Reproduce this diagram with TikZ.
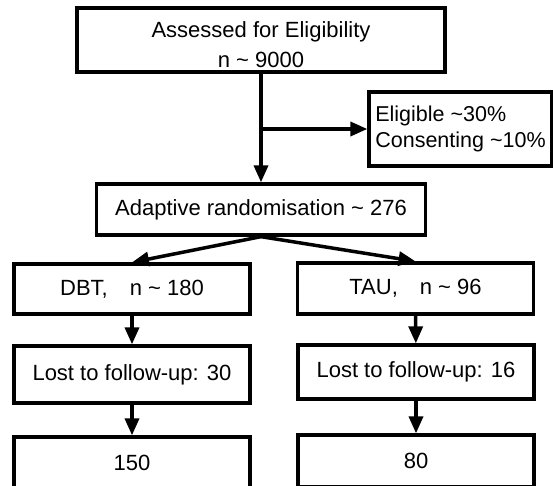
\documentclass[tikz,border=0pt]{standalone}
\usepackage{fontspec}
\setmainfont{Liberation Sans}
\usetikzlibrary{arrows.meta}
\begin{document}
\begin{tikzpicture}[x=1pt, y=-1pt,
        box/.style={rectangle, draw, line width=3.3pt, minimum width=236pt, inner sep=0pt,
            font=\fontsize{22}{27}\selectfont},
        arr/.style={line width=3.5pt, -{Triangle[length=17pt, width=14pt]}}]
        \useasboundingbox (0,0) rectangle (553,486);
        \clip (0,0) rectangle (553,486);

        % Nodes
        \node (assess) [box, minimum width=368pt, minimum height=64pt, align=center] at (261,40) {\rule{0pt}{26pt}Assessed for Eligibility\\[3pt]n \textasciitilde{} 9000};
        \node (elig) [box, minimum width=183pt, minimum height=74pt, align=left, font=\fontsize{21.5}{26}\selectfont] at (460.5,129) {Eligible \textasciitilde30\%\\Consenting \textasciitilde10\%};
        \node (rand) [box, minimum width=329pt, minimum height=51pt] at (261,209.5) {Adaptive randomisation \textasciitilde{} 276};
        \node (dbt) [box, minimum height=50pt] at (132,289) {DBT,\quad n \textasciitilde{} 180};
        \node (tau) [box, minimum height=51pt] at (415.5,288.5) {TAU,\quad n \textasciitilde{} 96};
        \node (lostd) [box, minimum height=57pt] at (132,374.5) {Lost to follow-up: 30};
        \node (lostt) [box, minimum height=54pt] at (416,372) {Lost to follow-up: 16};
        \node (endd) [box, minimum height=52pt] at (132,463) {150};
        \node (endt) [box, minimum height=52pt] at (416,461) {80};
        \coordinate (split) at (assess.south |- elig.west);

        % Edges
        \draw [arr] (assess) -- (rand);
        \draw [arr] (split) -- (elig);
        \draw [arr] (rand.south) -- (dbt.north);
        \draw [arr] (rand.south) -- (tau.north);
        \draw [arr] (dbt) -- (lostd);
        \draw [arr] (tau) -- (lostt);
        \draw [arr] (lostd) -- (endd);
        \draw [arr] (lostt) -- (endt);

\end{tikzpicture}
\end{document}
